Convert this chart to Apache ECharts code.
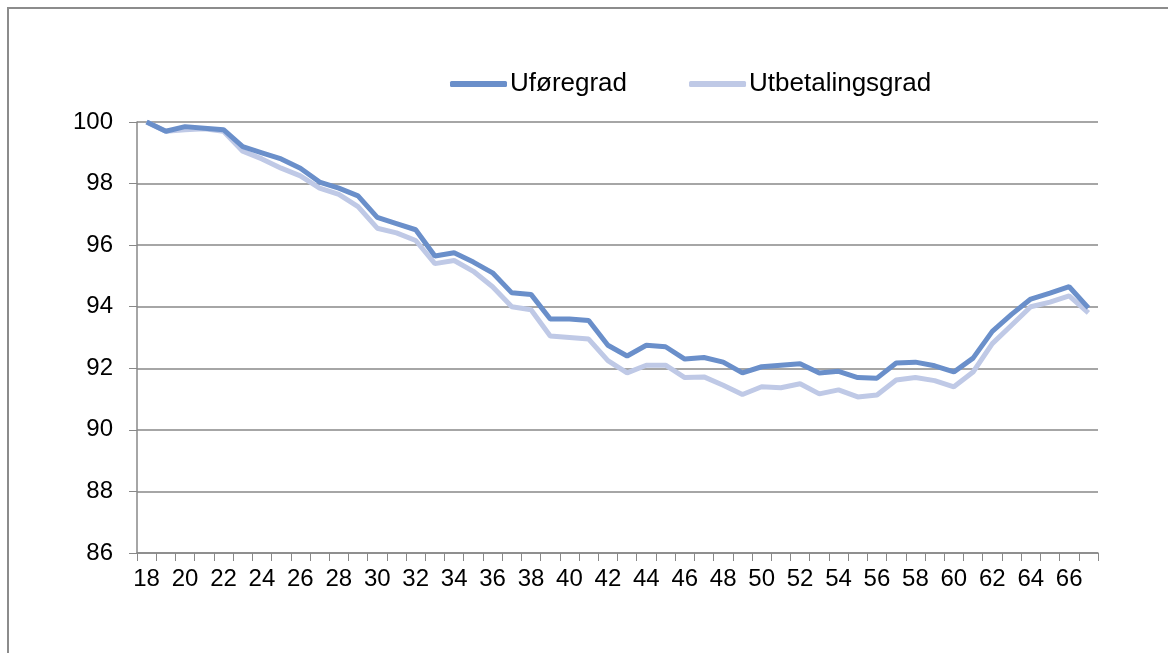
<!DOCTYPE html>
<html lang="no">
<head>
    <meta charset="UTF-8">
    <title>Uføregrad og utbetalingsgrad</title>
    <script src="https://cdn.jsdelivr.net/npm/echarts@6/dist/echarts.min.js"></script>
    <style>
        body { margin: 0; background: #fff; }
        .frame {
            position: absolute;
            left: 7px;
            top: 7px;
            width: 1200px;
            height: 700px;
            border-left: 2px solid #8c8c8c;
            border-top: 2px solid #8c8c8c;
        }
        #chart { position: absolute; left: 0; top: 0; width: 1168px; height: 653px; }
    </style>
</head>
<body>
    <div class="frame"></div>
    <div id="chart"></div>
    <script>
        // alder 18-67
        var ages = [];
        for (var a = 18; a <= 67; a++) ages.push(String(a));

        var uforegrad = [
            100.0, 99.7, 99.85, 99.8, 99.75, 99.2, 99.0, 98.8, 98.5, 98.05,
            97.85, 97.6, 96.9, 96.7, 96.5, 95.65, 95.75, 95.45, 95.1, 94.45,
            94.4, 93.6, 93.6, 93.55, 92.75, 92.4, 92.75, 92.7, 92.3, 92.35,
            92.2, 91.85, 92.05, 92.1, 92.15, 91.85, 91.9, 91.7, 91.68, 92.17,
            92.2, 92.08, 91.88, 92.33, 93.2, 93.75, 94.25, 94.44, 94.65, 93.96
        ];
        var utbetalingsgrad = [
            100.0, 99.7, 99.75, 99.78, 99.7, 99.05, 98.8, 98.5, 98.25, 97.85,
            97.65, 97.25, 96.55, 96.4, 96.15, 95.4, 95.5, 95.15, 94.65, 94.0,
            93.9, 93.05, 93.0, 92.95, 92.25, 91.85, 92.1, 92.1, 91.7, 91.72,
            91.45, 91.15, 91.4, 91.37, 91.5, 91.17, 91.3, 91.07, 91.13, 91.62,
            91.7, 91.6, 91.4, 91.88, 92.8, 93.4, 94.0, 94.15, 94.35, 93.8
        ];

        var chart = echarts.init(document.getElementById('chart'));
        var font = 'Liberation Sans, Arial, sans-serif';

        chart.setOption({
            animation: false,
            color: ['#6a8fca', '#bfc9e6'],
            legend: {
                left: 445,
                top: 66,
                itemWidth: 57,
                itemHeight: 6,
                itemGap: 62,
                icon: 'roundRect',
                textStyle: { fontFamily: font, fontSize: 26, color: '#000', padding: [0, 0, 0, -2] },
                data: ['Uføregrad', 'Utbetalingsgrad']
            },
            grid: { left: 137, right: 70, top: 122, bottom: 100 },
            xAxis: {
                type: 'category',
                data: ages,
                boundaryGap: true,
                axisLine: { lineStyle: { color: '#888', width: 1.5 } },
                axisTick: { show: true, interval: 0, length: 8, lineStyle: { color: '#888' } },
                axisLabel: { interval: 1, fontFamily: font, fontSize: 24, color: '#000', margin: 14 }
            },
            yAxis: {
                type: 'value',
                min: 86,
                max: 100,
                interval: 2,
                axisLine: { show: true, lineStyle: { color: '#888', width: 1.5 } },
                axisTick: { show: true, length: 8, lineStyle: { color: '#888' } },
                axisLabel: { fontFamily: font, fontSize: 24, color: '#000', margin: 24 },
                splitLine: { lineStyle: { color: '#888', width: 1.5 } }
            },
            series: [
                {
                    name: 'Uføregrad',
                    type: 'line',
                    data: uforegrad,
                    symbol: 'none',
                    z: 3,
                    lineStyle: { width: 5 }
                },
                {
                    name: 'Utbetalingsgrad',
                    type: 'line',
                    data: utbetalingsgrad,
                    symbol: 'none',
                    z: 2,
                    lineStyle: { width: 5 }
                }
            ]
        });
    </script>
</body>
</html>
